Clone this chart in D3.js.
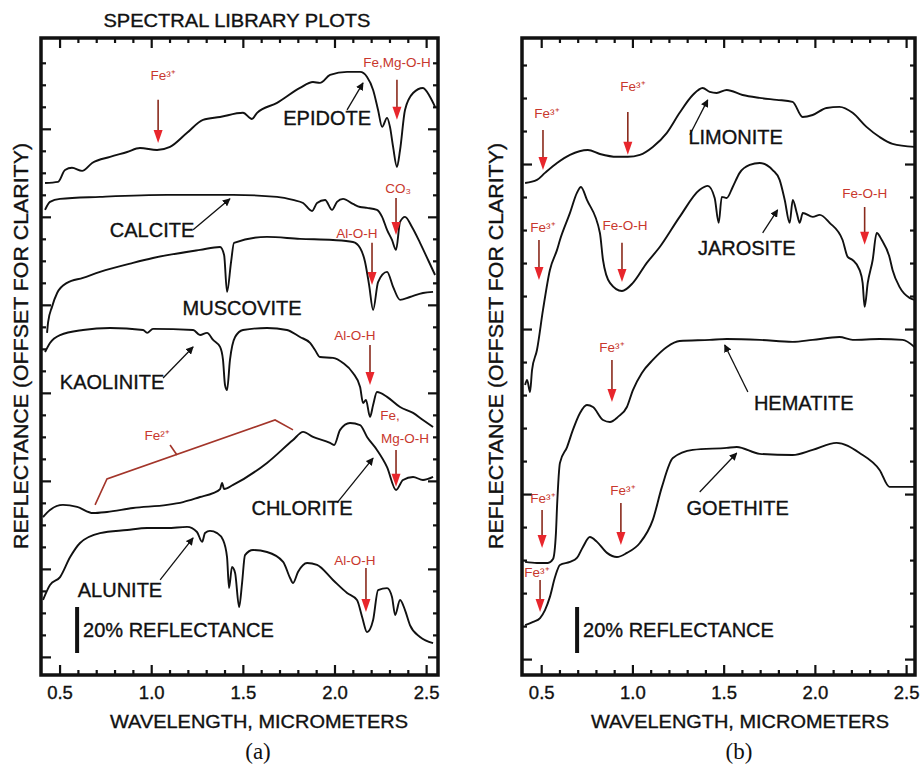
<!DOCTYPE html>
<html>
<head>
<meta charset="utf-8">
<script src="https://d3js.org/d3.v7.min.js"></script>
<style>
  body { margin: 0; background: #fff; }
  svg text { font-family: "Liberation Sans", Arial, sans-serif; }
  svg text.heavy { stroke: #111; stroke-width: 0.35px; }
</style>
</head>
<body>
<div id="chart"></div>
<script>
// spectra: [wavelength in micrometers, reflectance % (offset for clarity)]

// panel (a)
const epidote = [[0.418,223.6],[0.489,224.1],[0.527,229.5],[0.565,230.5],[0.620,229.1],[0.675,232.7],[0.773,235.5],[0.866,237.7],[0.936,239.5],[1.029,238.6],[1.100,240],[1.193,246.4],[1.280,252.3],[1.373,253.6],[1.498,255.5],[1.547,252.7],[1.575,255.5],[1.684,260],[1.809,266.8],[1.880,269.5],[1.918,269.1],[1.973,272.7],[2.066,274.1],[2.137,274.1],[2.175,271.8],[2.208,265.9],[2.235,256.8],[2.257,249.1],[2.284,253.2],[2.300,249.1],[2.317,240],[2.338,230.9],[2.355,238.6],[2.382,256.8],[2.426,264.5],[2.480,266.8],[2.519,262.7],[2.546,258.2]]
const calcite = [[0.418,211.4],[0.445,215],[0.5,216.4],[0.718,217.3],[1.084,218.2],[1.444,218.2],[1.684,217.3],[1.771,215.9],[1.826,214.5],[1.875,210.9],[1.902,214.5],[1.946,215.9],[1.984,211.4],[2.011,215],[2.044,216.4],[2.098,214.1],[2.137,212.7],[2.175,212.3],[2.229,211.4],[2.257,208.2],[2.284,202.3],[2.311,197.7],[2.333,193.2],[2.355,205.9],[2.382,208.2],[2.420,203.6],[2.464,196.4],[2.508,188.6],[2.546,181.8]]
const muscovite = [[0.429,155.5],[0.435,160.5],[0.456,167.3],[0.484,173.6],[0.538,178.2],[0.625,180.5],[0.718,183.2],[0.898,187.3],[1.007,189.5],[1.264,193.2],[1.373,194.5],[1.395,190.9],[1.411,174.1],[1.433,187.7],[1.449,196.4],[1.629,199.1],[1.809,198.2],[1.989,197.7],[2.098,196.8],[2.137,194.1],[2.164,187.7],[2.186,177.3],[2.208,165.9],[2.235,178.6],[2.284,183.2],[2.317,176.4],[2.355,170.5],[2.409,171.8],[2.480,173.6],[2.535,174.1]]
const kaolinite = [[0.418,146.8],[0.445,150.9],[0.5,154.5],[0.625,156.8],[0.773,157.7],[0.953,156.8],[0.975,155.5],[1.007,157.3],[1.226,156.8],[1.264,154.5],[1.302,155.5],[1.335,152.3],[1.373,149.1],[1.389,143.2],[1.4,131.8],[1.411,129.5],[1.427,143.2],[1.455,153.6],[1.498,156.8],[1.629,157.7],[1.738,156.8],[1.809,153.6],[1.864,150.9],[1.891,147.7],[1.918,144.5],[1.989,144.1],[2.044,141.8],[2.098,137.3],[2.137,130.9],[2.153,123.6],[2.169,125],[2.191,117.3],[2.208,122.7],[2.229,128.6],[2.284,126.4],[2.355,121.8],[2.426,119.1],[2.480,115.9],[2.535,112.7]]
const chlorite = [[0.407,71.8],[0.445,75],[0.516,77.3],[0.593,76.4],[0.680,73.6],[0.756,74.1],[0.898,75.9],[1.084,77.3],[1.171,78.6],[1.264,80.9],[1.335,82.7],[1.373,84.5],[1.384,87.3],[1.395,84.5],[1.444,86.4],[1.629,96.4],[1.771,106.8],[1.826,110.5],[1.880,108.2],[1.973,105.5],[1.995,104.5],[2.028,111.4],[2.082,114.5],[2.137,113.6],[2.175,108.2],[2.229,102.3],[2.284,94.5],[2.333,84.1],[2.371,88.6],[2.426,90],[2.480,88.6],[2.535,90]]
const alunite = [[0.407,34.1],[0.445,40.9],[0.5,44.5],[0.555,53.6],[0.609,60],[0.718,64.5],[0.866,65.9],[0.975,66.8],[1.084,66.8],[1.193,67.3],[1.247,65],[1.275,60.5],[1.291,64.5],[1.318,65.5],[1.357,64.5],[1.389,61.4],[1.411,53.6],[1.422,39.5],[1.438,49.1],[1.455,46.4],[1.477,30.9],[1.493,41.8],[1.509,54.5],[1.553,56.8],[1.629,55.9],[1.717,51.4],[1.755,44.1],[1.771,41.8],[1.798,46.8],[1.848,50.9],[1.902,50],[1.989,43.2],[2.066,37.3],[2.120,34.1],[2.148,26.4],[2.175,19.5],[2.208,25],[2.235,38.6],[2.284,39.5],[2.311,35.5],[2.328,27.3],[2.355,34.1],[2.382,29.5],[2.409,22.7],[2.464,17.3],[2.535,14.5]]

// panel (b)
const limonite = [[0.409,223.6],[0.474,225],[0.518,228.2],[0.584,232.7],[0.655,236.4],[0.753,238.6],[0.819,236.8],[0.912,235.5],[0.972,235.5],[1.038,236.4],[1.109,240],[1.186,246.4],[1.256,255.5],[1.328,263.6],[1.382,266.8],[1.421,265],[1.459,264.5],[1.514,265.9],[1.601,263.6],[1.694,262.3],[1.788,261.4],[1.875,260.5],[1.930,253.6],[1.985,254.5],[2.061,257.7],[2.132,258.2],[2.204,255.5],[2.280,249.1],[2.352,244.5],[2.423,241.4],[2.543,240]]
const jarosite = [[0.409,131.8],[0.420,134.1],[0.436,128.6],[0.447,138.6],[0.474,147.7],[0.507,165.9],[0.545,184.1],[0.584,193.2],[0.600,197.7],[0.655,210],[0.693,219.1],[0.715,221.8],[0.748,215.9],[0.819,200.9],[0.836,188.6],[0.874,178.2],[0.940,174.5],[1.000,178.2],[1.076,187.3],[1.147,194.5],[1.256,208.2],[1.366,220.5],[1.410,222.3],[1.448,216.8],[1.470,205.5],[1.487,217.3],[1.514,216.8],[1.547,221.8],[1.585,228.2],[1.640,231.8],[1.695,232.7],[1.766,229.5],[1.804,225],[1.832,215.9],[1.859,205.5],[1.876,215.9],[1.898,210],[1.914,205.5],[1.931,210],[1.986,208.2],[2.024,209.1],[2.078,205.5],[2.149,197.7],[2.177,190],[2.204,188.6],[2.242,184.1],[2.259,178.2],[2.270,167.3],[2.287,178.2],[2.314,188.6],[2.336,200.9],[2.364,197.7],[2.406,190],[2.423,184.1],[2.461,176.4],[2.516,171.4],[2.543,170.5]]
const hematite = [[0.409,51.4],[0.474,50.9],[0.534,50.9],[0.562,52.7],[0.578,64.5],[0.584,76.4],[0.600,96.4],[0.639,103.6],[0.671,111.4],[0.710,119.1],[0.748,122.7],[0.781,121.8],[0.836,115.9],[0.874,115],[0.918,117.3],[0.967,121.8],[1.000,129.5],[1.049,137.3],[1.109,143.2],[1.186,149.1],[1.256,151.8],[1.421,152.3],[1.514,152.7],[1.695,152.3],[1.875,151.4],[1.985,152.3],[2.132,153.6],[2.204,152.3],[2.352,152.7],[2.478,152.3],[2.543,149.1]]
const goethite = [[0.409,22.7],[0.453,24.1],[0.491,25.9],[0.518,29.5],[0.545,35.5],[0.573,44.5],[0.600,50],[0.655,51.4],[0.693,53.2],[0.726,58.2],[0.764,62.7],[0.803,60.5],[0.858,55.5],[0.912,53.6],[0.967,55.5],[1.038,60],[1.109,70.5],[1.159,85.5],[1.219,98.6],[1.328,102.3],[1.514,103.2],[1.569,103.6],[1.695,100.5],[1.875,100],[1.985,102.3],[2.116,105.5],[2.242,100.9],[2.352,93.2],[2.406,85.5],[2.543,85.5]]

// mineral names [text, wavelength, reflectance]
const namesA = [['EPIDOTE',1.957,253.2],['CALCITE',1.002,202.3],['MUSCOVITE',1.493,166.8],['KAOLINITE',0.784,133.2],['CHLORITE',1.820,75.9],['ALUNITE',0.827,38.6]]
const namesB = [['LIMONITE',1.563,244.5],['JAROSITE',1.624,194.1],['HEMATITE',1.936,123.6],['GOETHITE',1.574,75.9]]

// black pointer arrows [from, to]
const pointersA = [[[2.066,256.8],[2.153,269.1]],[[1.226,202.3],[1.427,216.4]],[[1.062,135],[1.226,149.1]],[[2.011,78.2],[2.208,98.6]],[[1.046,43.2],[1.226,62.3]]]
const pointersB = [[[1.312,245.5],[1.410,261.4]],[[1.711,200.9],[1.793,211.4]],[[1.630,128.6],[1.503,150]],[[1.366,83.2],[1.569,100.9]]]

// absorption feature labels [text, wavelength, reflectance] and arrows [wavelength, from, to]
const featuresA = [['Fe³⁺',1.062,272.7],['Fe,Mg-O-H',2.338,278.6],['CO₃',2.344,221.4],['Al-O-H',2.120,200.9],['Al-O-H',2.109,154.5],['Fe,',2.300,118.2],['Mg-O-H',2.382,107.7],['Fe²⁺',1.029,109.1],['Al-O-H',2.109,52.3]]
const featureArrowsA = [[1.035,261.4,241.8],[2.338,270.5,252.3],[2.333,216.8,200],[2.202,196.4,177.3],[2.191,150,131.8],[2.333,102.3,85.5],[2.169,48.6,28.6]]
const featuresB = [['Fe³⁺',0.529,255.5],['Fe³⁺',1.0,267.7],['Fe³⁺',0.507,203.6],['Fe-O-H',0.956,204.5],['Fe-O-H',2.270,219.1],['Fe³⁺',0.885,149.1],['Fe³⁺',0.507,80.5],['Fe³⁺',0.945,84.1],['Fe³⁺',0.474,46.8]]
const featureArrowsB = [[0.507,247.7,229.5],[0.972,255.9,236.4],[0.485,197.7,179.5],[0.940,196.4,178.6],[2.270,212.7,195.5],[0.885,143.2,124.1],[0.502,75,57.7],[0.934,78.2,59.1],[0.491,43.2,28.6]]

// Fe2+ bracket over chlorite
const bracketA = [[0.691,77.3],[0.756,89.1],[1.673,115.9],[1.771,111.4]]
const bracketStemA = [[1.100,104.5],[1.138,100]]

// 20% reflectance scale bar [wavelength, from, to]
const scaleBarA = [0.593, 10, 30.9]
const scaleBarB = [0.694, 10, 30.9]

// axes
const xTickValues = [0.4,0.5,0.6,0.7,0.8,0.9,1.0,1.1,1.2,1.3,1.4,1.5,1.6,1.7,1.8,1.9,2.0,2.1,2.2,2.3,2.4,2.5]
const xTickLabels = ['0.5','1.0','1.5','2.0','2.5']
const yTicksA = [8,18,28,38,48,58,68,78,88,98,108,118,128,138,148,158,168,178,188,198,208,218,228,238,248,258,268,278]
const yMajorA = [8,48,88,128,168,208,248]
const yTicksB = [7,22,37,52,67,82,97,112,127,142,157,172,187,202,217,232,247,262,277]
const yMajorB = [7,82,157,232]

const W = 924, H = 765
const plotTop = 38, plotBottom = 675
const yDomain = [0, 289.5]

const svg = d3.select('#chart').append('svg')
  .attr('width', W).attr('height', H)
  .style('background', '#fff')

svg.append('defs').append('marker')
  .attr('id', 'blk').attr('viewBox', '0 0 10 10')
  .attr('refX', 9).attr('refY', 5)
  .attr('markerWidth', 6).attr('markerHeight', 6)
  .attr('orient', 'auto')
  .append('path').attr('d', 'M0,0L10,5L0,10z').attr('fill', '#111')

const ink = '#111'
const red = '#c8372d'

function panel(p) {
  const x = d3.scaleLinear().domain(p.xDomain).range([p.left, p.right])
  const y = d3.scaleLinear().domain(yDomain).range([plotBottom, plotTop])
  const g = svg.append('g')

  const line = d3.line().x(d => x(d[0])).y(d => y(d[1])).curve(d3.curveMonotoneX)
  g.selectAll('path.spec').data(p.spectra).join('path')
    .attr('class', 'spec')
    .attr('d', line)
    .attr('fill', 'none').attr('stroke', ink).attr('stroke-width', 1.9)
    .attr('stroke-linejoin', 'round')

  // ticks, pointing inward on all four sides
  const isMajor = t => Math.abs(t * 2 - Math.round(t * 2)) < 1e-6
  xTickValues.filter(t => x(t) > p.left + 2).forEach(t => {
    const len = isMajor(t) ? 10 : 5
    g.append('line').attr('x1', x(t)).attr('x2', x(t)).attr('y1', plotBottom).attr('y2', plotBottom - len)
      .attr('stroke', ink).attr('stroke-width', 2.2)
    g.append('line').attr('x1', x(t)).attr('x2', x(t)).attr('y1', plotTop).attr('y2', plotTop + len)
      .attr('stroke', ink).attr('stroke-width', 2.2)
  })
  p.yTicks.forEach(t => {
    const len = p.yMajor.includes(t) ? 10 : 5
    g.append('line').attr('x1', p.left).attr('x2', p.left + len).attr('y1', y(t)).attr('y2', y(t))
      .attr('stroke', ink).attr('stroke-width', 2.2)
    g.append('line').attr('x1', p.right).attr('x2', p.right - len).attr('y1', y(t)).attr('y2', y(t))
      .attr('stroke', ink).attr('stroke-width', 2.2)
  })

  g.append('rect')
    .attr('x', p.left).attr('y', plotTop)
    .attr('width', p.right - p.left).attr('height', plotBottom - plotTop)
    .attr('fill', 'none').attr('stroke', ink).attr('stroke-width', 3.5)

  xTickLabels.forEach(s => {
    g.append('text').attr('class', 'heavy').attr('x', x(+s)).attr('y', 699)
      .attr('text-anchor', 'middle').attr('font-size', 18.5).attr('fill', ink)
      .text(s)
  })

  // mineral names
  p.names.forEach(([s, w, v]) => {
    g.append('text').attr('class', 'heavy').attr('x', x(w)).attr('y', y(v)).attr('dy', '0.36em')
      .attr('text-anchor', 'middle').attr('font-size', 20).attr('fill', ink)
      .text(s)
  })
  p.pointers.forEach(([a, b]) => {
    g.append('line').attr('x1', x(a[0])).attr('y1', y(a[1])).attr('x2', x(b[0])).attr('y2', y(b[1]))
      .attr('stroke', ink).attr('stroke-width', 1.3).attr('marker-end', 'url(#blk)')
  })

  // absorption features
  p.features.forEach(([s, w, v]) => {
    g.append('text').attr('x', x(w)).attr('y', y(v)).attr('dy', '0.36em')
      .attr('text-anchor', 'middle').attr('font-size', 13.5).attr('fill', red)
      .text(s)
  })
  p.featureArrows.forEach(([w, v0, v1]) => {
    const ax = x(w), y0 = y(v0), y1 = y(v1)
    g.append('line').attr('x1', ax).attr('x2', ax).attr('y1', y0).attr('y2', y1 - 6)
      .attr('stroke', '#8a2a1c').attr('stroke-width', 1.6)
    g.append('path').attr('d', `M${ax - 4.5},${y1 - 13}L${ax + 4.5},${y1 - 13}L${ax},${y1}Z`)
      .attr('fill', '#e8262c')
  })
  if (p.bracket) {
    g.append('path').attr('d', d3.line().x(d => x(d[0])).y(d => y(d[1]))(p.bracket))
      .attr('fill', 'none').attr('stroke', '#a3352a').attr('stroke-width', 1.6)
    g.append('path').attr('d', d3.line().x(d => x(d[0])).y(d => y(d[1]))(p.bracketStem))
      .attr('fill', 'none').attr('stroke', '#a3352a').attr('stroke-width', 1.6)
  }

  // 20% reflectance bar
  const [bw, b0, b1] = p.scaleBar
  g.append('line').attr('x1', x(bw)).attr('x2', x(bw)).attr('y1', y(b0)).attr('y2', y(b1))
    .attr('stroke', ink).attr('stroke-width', 4)
  g.append('text').attr('class', 'heavy').attr('x', x(bw) + 6).attr('y', y((b0 + b1) / 2)).attr('dy', '0.36em')
    .attr('font-size', 20).attr('fill', ink)
    .text('20% REFLECTANCE')

  // axis titles
  g.append('text').attr('class', 'heavy').attr('x', p.titleX).attr('y', 728)
    .attr('text-anchor', 'middle').attr('font-size', 18.5).attr('fill', ink)
    .attr('textLength', 298).attr('lengthAdjust', 'spacingAndGlyphs')
    .text('WAVELENGTH, MICROMETERS')
  g.append('text').attr('class', 'heavy')
    .attr('transform', `translate(${p.yTitleX},346) rotate(-90)`)
    .attr('text-anchor', 'middle').attr('font-size', 21).attr('fill', ink)
    .attr('textLength', 406).attr('lengthAdjust', 'spacingAndGlyphs')
    .text('REFLECTANCE (OFFSET FOR CLARITY)')
  g.append('text').attr('x', p.titleX - 1).attr('y', 759)
    .attr('text-anchor', 'middle').attr('font-size', 23).attr('fill', ink)
    .style('font-family', '"Liberation Serif", "Times New Roman", serif')
    .text(p.tag)
}

svg.append('text').attr('class', 'heavy').attr('x', 237).attr('y', 27)
  .attr('text-anchor', 'middle').attr('font-size', 17.5).attr('fill', ink)
  .attr('textLength', 267).attr('lengthAdjust', 'spacingAndGlyphs')
  .text('SPECTRAL LIBRARY PLOTS')

panel({
  left: 41, right: 438, xDomain: [0.396, 2.562],
  spectra: [epidote, calcite, muscovite, kaolinite, chlorite, alunite],
  names: namesA, pointers: pointersA,
  features: featuresA, featureArrows: featureArrowsA,
  bracket: bracketA, bracketStem: bracketStemA,
  scaleBar: scaleBarA,
  yTicks: yTicksA, yMajor: yMajorA,
  titleX: 259, yTitleX: 28, tag: '(a)'
})

panel({
  left: 522, right: 915, xDomain: [0.392, 2.546],
  spectra: [limonite, jarosite, hematite, goethite],
  names: namesB, pointers: pointersB,
  features: featuresB, featureArrows: featureArrowsB,
  scaleBar: scaleBarB,
  yTicks: yTicksB, yMajor: yMajorB,
  titleX: 740, yTitleX: 503, tag: '(b)'
})
</script>
</body>
</html>
